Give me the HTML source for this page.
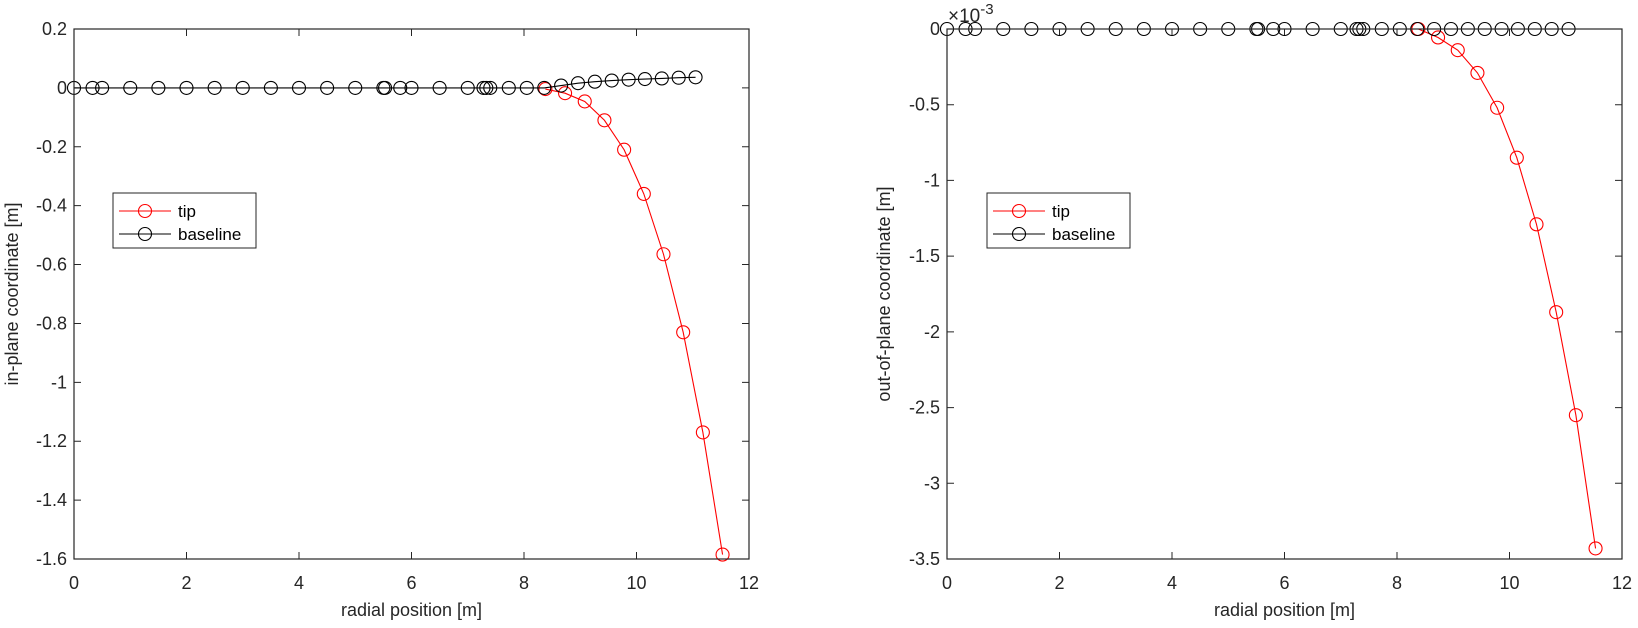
<!DOCTYPE html>
<html><head><meta charset="utf-8"><style>
html,body{margin:0;padding:0;background:#fff;}
svg{display:block;font-family:"Liberation Sans",Arial,sans-serif;}
</style></head><body>
<svg id="fig" width="1638" height="628" viewBox="0 0 1638 628" xmlns="http://www.w3.org/2000/svg"></svg>
<script>
// ---- data ----
const baseX = [0,0.33,0.5,1,1.5,2,2.5,3,3.5,4,4.5,5,5.5,5.53,5.8,6,6.5,7,7.28,7.33,7.4,7.73,8.05,8.36,8.66,8.96,9.26,9.56,9.86,10.15,10.45,10.75,11.05];
const baseInPlane = [0,0,0,0,0,0,0,0,0,0,0,0,0,0,0,0,0,0,0,0,0,0,0,0,0.008,0.016,0.021,0.025,0.028,0.030,0.032,0.0345,0.036];
const baseOutPlane = [0,0,0,0,0,0,0,0,0,0,0,0,0,0,0,0,0,0,0,0,0,0,0,0,0,0,0,0,0,0,0,0,0];
const tipX = [8.38,8.73,9.08,9.43,9.78,10.13,10.48,10.83,11.18,11.53];
const tipInPlane = [-0.004,-0.018,-0.046,-0.11,-0.21,-0.36,-0.565,-0.83,-1.17,-1.585];
const tipOutPlane = [0,-0.056,-0.14,-0.29,-0.52,-0.85,-1.29,-1.87,-2.55,-3.43];
const xTicks = [0,2,4,6,8,10,12];
const yTicksLeft = [0.2,0,-0.2,-0.4,-0.6,-0.8,-1,-1.2,-1.4,-1.6];
const yTickLabelsLeft = ["0.2","0","-0.2","-0.4","-0.6","-0.8","-1","-1.2","-1.4","-1.6"];
const yTicksRight = [0,-0.5,-1,-1.5,-2,-2.5,-3,-3.5];
const yTickLabelsRight = ["0","-0.5","-1","-1.5","-2","-2.5","-3","-3.5"];

const NS="http://www.w3.org/2000/svg";
const svg=document.getElementById('fig');
function mk(tag,attrs,parent){const e=document.createElementNS(NS,tag);for(const k in attrs)e.setAttribute(k,attrs[k]);(parent||svg).appendChild(e);return e;}

function panel(cfg){
  const g=mk('g',{});
  
  
  const L=cfg.l,R=cfg.r,T=29,B=559;
  const sx=v=>L+(v-0)/(12-0)*(R-L);
  const sy=v=>T+(cfg.ymax-v)/(cfg.ymax-cfg.ymin)*(B-T);
  xTicks.forEach(t=>{
    const x=sx(t);
    const tk=mk('path',{d:`M${x},${B}v-7M${x},${T}v7`,stroke:'#262626','stroke-width':1},g);
    
    
    const tx=mk('text',{x:x,y:589,'text-anchor':'middle','font-size':18,fill:'#262626'},g);
    tx.textContent=String(t);
    
    
  });
  cfg.yt.forEach((t,i)=>{
    const y=sy(t);
    const tk=mk('path',{d:`M${L},${y}h7M${R},${y}h-7`,stroke:'#262626','stroke-width':1},g);
    
    
    const tx=mk('text',{x:L-7,y:y+6,'text-anchor':'end','font-size':18,fill:'#262626'},g);
    tx.textContent=cfg.ytl[i];
    
    
  });
  function series(xs,ys,color,name){
    const sg=mk('g',{},g);
    
    
    mk('polyline',{points:xs.map((x,i)=>sx(x)+','+sy(ys[i])).join(' '),fill:'none',stroke:color,'stroke-width':1.1},sg);
    xs.forEach((x,i)=>{
      const c=mk('circle',{cx:sx(x),cy:sy(ys[i]),r:6.5,fill:'none',stroke:color,'stroke-width':1.1},sg);
      
      
    });
  }
  series(tipX,cfg.tipY,'#ff0000','tip-series');
  series(baseX,cfg.baseY,'#000000','baseline-series');
  const box=mk('rect',{x:L,y:T,width:R-L,height:B-T,fill:'none',stroke:'#262626','stroke-width':1.2},g);
  
  
  const xl=mk('text',{x:(L+R)/2,y:616,'text-anchor':'middle','font-size':18,fill:'#262626'},g);
  xl.textContent='radial position [m]';
  
  
  const yl=mk('text',{x:0,y:0,'text-anchor':'middle','font-size':18,fill:'#262626',transform:`translate(${cfg.ylx},${(T+B)/2}) rotate(-90)`},g);
  yl.textContent=cfg.ylabel;
  
  
  const lg=mk('g',{},g);
  
  
  const lx=cfg.legX;
  mk('rect',{x:lx,y:193,width:143,height:55,fill:'#fff',stroke:'#262626','stroke-width':1},lg);
  [['tip','#ff0000',211],['baseline','#000000',234]].forEach(([lab,col,yy])=>{
    const e=mk('g',{},lg);
    
    
    mk('line',{x1:lx+6,x2:lx+58,y1:yy,y2:yy,stroke:col,'stroke-width':1.1},e);
    mk('circle',{cx:lx+32,cy:yy,r:6.5,fill:'none',stroke:col,'stroke-width':1.1},e);
    const t=mk('text',{x:lx+65,y:yy+6,'font-size':17,fill:'#000'},e);
    t.textContent=lab;
  });
  return g;
}
panel({name:'in-plane-chart',l:74,r:749,ymax:0.2,ymin:-1.6,yt:yTicksLeft,ytl:yTickLabelsLeft,tipY:tipInPlane,baseY:baseInPlane,ylabel:'in-plane coordinate [m]',ylx:18,legX:113});
panel({name:'out-of-plane-chart',l:947,r:1622,ymax:0,ymin:-3.5,yt:yTicksRight,ytl:yTickLabelsRight,tipY:tipOutPlane,baseY:baseOutPlane,ylabel:'out-of-plane coordinate [m]',ylx:890,legX:987});
const ex=mk('text',{x:948,y:22,'font-size':19,fill:'#262626'});


ex.innerHTML='×10<tspan dy="-8" font-size="15">-3</tspan>';
</script>
</body></html>
